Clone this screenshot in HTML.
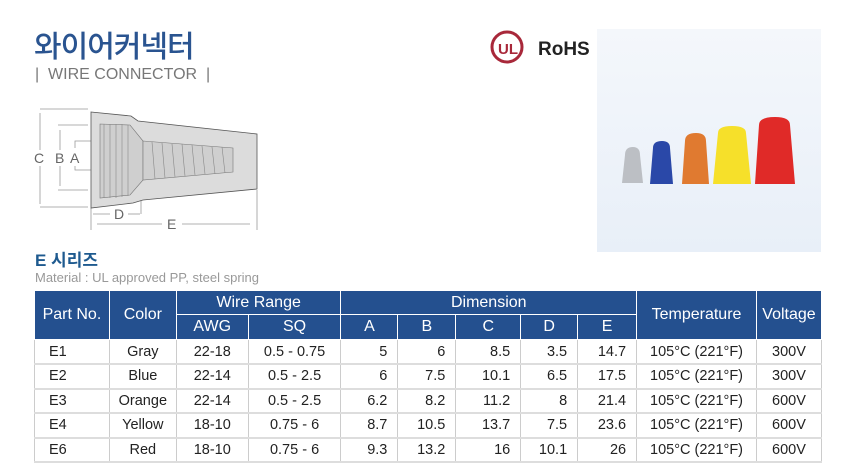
<!DOCTYPE html>
<html><head><meta charset="utf-8"><style>
*{margin:0;padding:0;box-sizing:border-box}
body{width:860px;height:476px;background:#fff;position:relative;overflow:hidden;font-family:"Liberation Sans","Noto Sans CJK KR",sans-serif}
.abs{position:absolute}
table{position:absolute;left:34px;top:290px;border-collapse:collapse;width:788px;font-size:14.5px;color:#222}
th{background:#24508f;color:#fff;font-weight:normal;border:1px solid #fff;font-size:16px;padding:0}
td{border-left:1px solid #ccc;border-right:1px solid #ccc;border-bottom:2px solid #ddd;height:24.5px;padding:0 6px;text-align:center}
td.r{text-align:right;padding-right:10px}
td.l{text-align:left;padding-left:14px}
</style></head><body>
<div class="abs" style="left:34px;top:22px;font-size:30px;color:#2a5490;font-weight:500;letter-spacing:-1px">와이어커넥터</div>
<div class="abs" style="left:35px;top:66px;font-size:16px;color:#777">|&nbsp; WIRE CONNECTOR &nbsp;|</div>
<svg class="abs" style="left:0;top:0" width="300" height="240">
<g stroke="#999" fill="none" stroke-width="0.8">
<line x1="40" y1="109" x2="88" y2="109"/><line x1="40" y1="207" x2="88" y2="207"/>
<line x1="40" y1="113" x2="40" y2="150"/><line x1="40" y1="166" x2="40" y2="204"/>
<line x1="58" y1="125" x2="88" y2="125"/><line x1="58" y1="190" x2="88" y2="190"/>
<line x1="60" y1="130" x2="60" y2="150"/><line x1="60" y1="166" x2="60" y2="186"/>
<polyline points="128,141 75,141 75,148"/><polyline points="128,170 75,170 75,166"/>
<line x1="91" y1="208" x2="91" y2="230"/><line x1="257" y1="190" x2="257" y2="230"/>
<line x1="141" y1="180" x2="141" y2="214"/>
<line x1="93" y1="214" x2="110" y2="214"/><line x1="128" y1="214" x2="140" y2="214"/>
<line x1="97" y1="224" x2="162" y2="224"/><line x1="182" y1="224" x2="250" y2="224"/>
</g>
<polygon points="91,112 131,116 138,121 257,134 257,189 143,200 133,203 91,208" fill="#dcdcdc" stroke="#555" stroke-width="0.8"/>
<polygon points="100,124 130,125 143,141 143,180 130,195 100,198" fill="#cfcfcf" stroke="#777" stroke-width="0.6"/>
<polygon points="143,141 233,148 233,172 143,180" fill="#cfcfcf" stroke="#777" stroke-width="0.6"/>
<g stroke="#888" stroke-width="0.6">
<line x1="104" y1="124" x2="104" y2="198"/><line x1="110" y1="124" x2="110" y2="198"/><line x1="116" y1="124" x2="116" y2="198"/><line x1="122" y1="124" x2="122" y2="197"/><line x1="128" y1="125" x2="128" y2="196"/>
<line x1="152" y1="142" x2="155" y2="179"/><line x1="162" y1="143" x2="165" y2="178"/><line x1="172" y1="144" x2="175" y2="177"/><line x1="182" y1="144" x2="185" y2="176"/><line x1="192" y1="145" x2="195" y2="175"/><line x1="202" y1="146" x2="205" y2="174"/><line x1="212" y1="147" x2="215" y2="174"/><line x1="222" y1="147" x2="225" y2="173"/>
</g>
<g font-size="14" fill="#666" font-family="Liberation Sans">
<text x="34" y="163">C</text><text x="55" y="163">B</text><text x="70" y="163">A</text>
<text x="114" y="219">D</text><text x="167" y="229">E</text></g>
</svg>
<svg class="abs" style="left:490px;top:30px" width="100" height="40">
<circle cx="17" cy="17" r="15" fill="none" stroke="#a8283a" stroke-width="3"/>
<text x="8" y="24" font-size="15" font-weight="bold" fill="#a8283a" font-family="Liberation Sans">UL</text>
<text x="48" y="25" font-size="19" font-weight="bold" fill="#222" font-family="Liberation Sans">RoHS</text>
</svg>
<div class="abs" style="left:597px;top:29px;width:224px;height:223px;background:linear-gradient(#f4f7fb,#e8eff8)"></div>
<svg class="abs" style="left:597px;top:29px" width="224" height="223">
<path d="M28,126 Q28,118 36,118 Q43,118 43,126 L46,154 L25,154Z" fill="#bcbfc4"/>
<path d="M56,119 Q56,112 65,112 Q73,112 73,119 L76,155 L53,155Z" fill="#2a48a8"/>
<path d="M88,112 Q88,104 99,104 Q109,104 109,112 L112,155 L85,155Z" fill="#e07a30"/>
<path d="M121,104 Q121,97 135,97 Q149,97 149,104 L154,155 L116,155Z" fill="#f6e02a"/>
<path d="M162,96 Q162,88 178,88 Q193,88 193,96 L198,155 L158,155Z" fill="#e02a28"/>
</svg>
<div class="abs" style="left:35px;top:246px;font-size:17px;font-weight:bold;color:#1e5a8f">E 시리즈</div>
<div class="abs" style="left:35px;top:270px;font-size:13px;color:#999">Material : UL approved PP, steel spring</div>
<table>
<colgroup><col style="width:75px"><col style="width:67px"><col style="width:72px"><col style="width:93px"><col style="width:57px"><col style="width:58px"><col style="width:65px"><col style="width:57px"><col style="width:59px"><col style="width:120px"><col style="width:65px"></colgroup>
<tr style="height:24px"><th rowspan="2">Part No.</th><th rowspan="2">Color</th><th colspan="2">Wire Range</th><th colspan="5">Dimension</th><th rowspan="2">Temperature</th><th rowspan="2">Voltage</th></tr>
<tr style="height:25px"><th>AWG</th><th>SQ</th><th>A</th><th>B</th><th>C</th><th>D</th><th>E</th></tr>
<tr><td class="l">E1</td><td>Gray</td><td>22-18</td><td>0.5 - 0.75</td><td class="r">5</td><td class="r">6</td><td class="r">8.5</td><td class="r">3.5</td><td class="r">14.7</td><td>105°C (221°F)</td><td>300V</td></tr>
<tr><td class="l">E2</td><td>Blue</td><td>22-14</td><td>0.5 - 2.5</td><td class="r">6</td><td class="r">7.5</td><td class="r">10.1</td><td class="r">6.5</td><td class="r">17.5</td><td>105°C (221°F)</td><td>300V</td></tr>
<tr><td class="l">E3</td><td>Orange</td><td>22-14</td><td>0.5 - 2.5</td><td class="r">6.2</td><td class="r">8.2</td><td class="r">11.2</td><td class="r">8</td><td class="r">21.4</td><td>105°C (221°F)</td><td>600V</td></tr>
<tr><td class="l">E4</td><td>Yellow</td><td>18-10</td><td>0.75 - 6</td><td class="r">8.7</td><td class="r">10.5</td><td class="r">13.7</td><td class="r">7.5</td><td class="r">23.6</td><td>105°C (221°F)</td><td>600V</td></tr>
<tr><td class="l">E6</td><td>Red</td><td>18-10</td><td>0.75 - 6</td><td class="r">9.3</td><td class="r">13.2</td><td class="r">16</td><td class="r">10.1</td><td class="r">26</td><td>105°C (221°F)</td><td>600V</td></tr>
</table>
</body></html>
